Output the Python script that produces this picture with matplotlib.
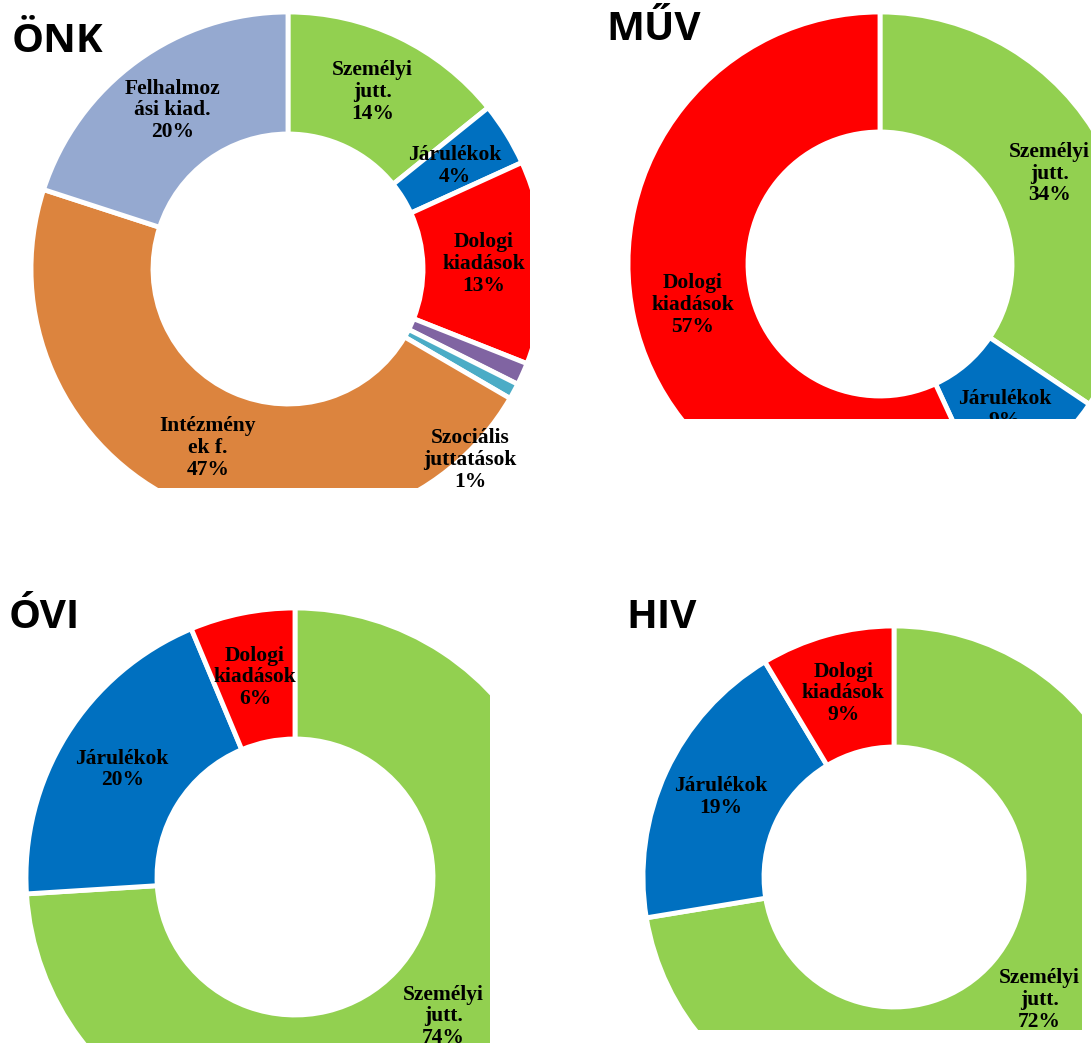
import numpy as np
import matplotlib.pyplot as plt

W, H = 1091, 1043

green = '#92D050'
blue = '#0070C0'
red = '#FF0000'
purple = '#8064A2'
teal = '#4BACC6'
orange = '#DC843E'
lightblue = '#95A9D0'

# ÖNK
onk_names = ["Személyi\njutt.", "Járulékok", "Dologi\nkiadások", "",
             "Szociális\njuttatások", "Intézmény\nek f.", "Felhalmoz\nási kiad."]
onk_values = [14.2, 4.0, 12.8, 1.4, 1.0, 46.6, 20.0]
onk_colors = [green, blue, red, purple, teal, orange, lightblue]

# MŰV
muv_names = ["Személyi\njutt.", "Járulékok", "Dologi\nkiadások"]
muv_values = [34.4, 8.7, 56.9]
muv_colors = [green, blue, red]

# ÓVI
ovi_names = ["Személyi\njutt.", "Járulékok", "Dologi\nkiadások"]
ovi_values = [74.0, 19.7, 6.3]
ovi_colors = [green, blue, red]

# HIV
hiv_names = ["Személyi\njutt.", "Járulékok", "Dologi\nkiadások"]
hiv_values = [72.4, 19.0, 8.6]
hiv_colors = [green, blue, red]

label_font = dict(family=['Liberation Serif', 'DejaVu Serif'], fontsize=15.5,
                  fontweight='bold', color='black')
title_font = dict(family=['Open Sans', 'DejaVu Sans'], fontsize=29,
                  fontweight='bold', color='black')

fig = plt.figure(figsize=(W / 100, H / 100), dpi=100)


def donut(box, center, R, r, values, colors, names, title, title_pos, moved=None):
    x0, y0, x1, y1 = box
    ax = fig.add_axes([x0 / W, 1 - y1 / H, (x1 - x0) / W, (y1 - y0) / H])
    cx, cy = center[0], H - center[1]
    wedges, _ = ax.pie(values, colors=colors, startangle=90, counterclock=False,
                       radius=R, center=(cx, cy),
                       wedgeprops=dict(width=R - r, edgecolor='white', linewidth=3.5))
    for wd in wedges:
        wd.set_clip_on(True)
    ax.set_xlim(x0, x1)
    ax.set_ylim(H - y1, H - y0)
    ax.set_aspect('auto')
    ax.axis('off')
    total = sum(values)
    for i, (wd, name, v) in enumerate(zip(wedges, names, values)):
        if not name:
            continue
        txt = name + "\n" + f"{round(v / total * 100):.0f}%"
        if moved and i in moved:
            dx, dy = moved[i]
            px, py = cx + dx * R, cy + dy * R
        else:
            ang = np.deg2rad((wd.theta1 + wd.theta2) / 2)
            rm = (R + r) / 2
            px, py = cx + rm * np.cos(ang), cy + rm * np.sin(ang)
        ax.text(px, py, txt, ha='center', va='center', linespacing=1.12,
                clip_on=True, **label_font)
    fig.text(title_pos[0] / W, 1 - title_pos[1] / H, title, ha='left',
             va='baseline', **title_font)


donut((0, 0, 530, 488), (288, 269), 257, 135, onk_values, onk_colors, onk_names,
      "ÖNK", (12, 52), moved={4: (0.708, -0.743)})
donut((560, 0, 1091, 419), (880, 264), 252, 132, muv_values, muv_colors, muv_names,
      "MŰV", (606, 40))
donut((0, 560, 490, 1043), (295, 877), 269, 138, ovi_values, ovi_colors, ovi_names,
      "ÓVI", (9, 628))
donut((560, 560, 1082, 1030), (894, 877), 251, 130, hiv_values, hiv_colors, hiv_names,
      "HIV", (626, 628))

fig.savefig("out.png", dpi=100)
